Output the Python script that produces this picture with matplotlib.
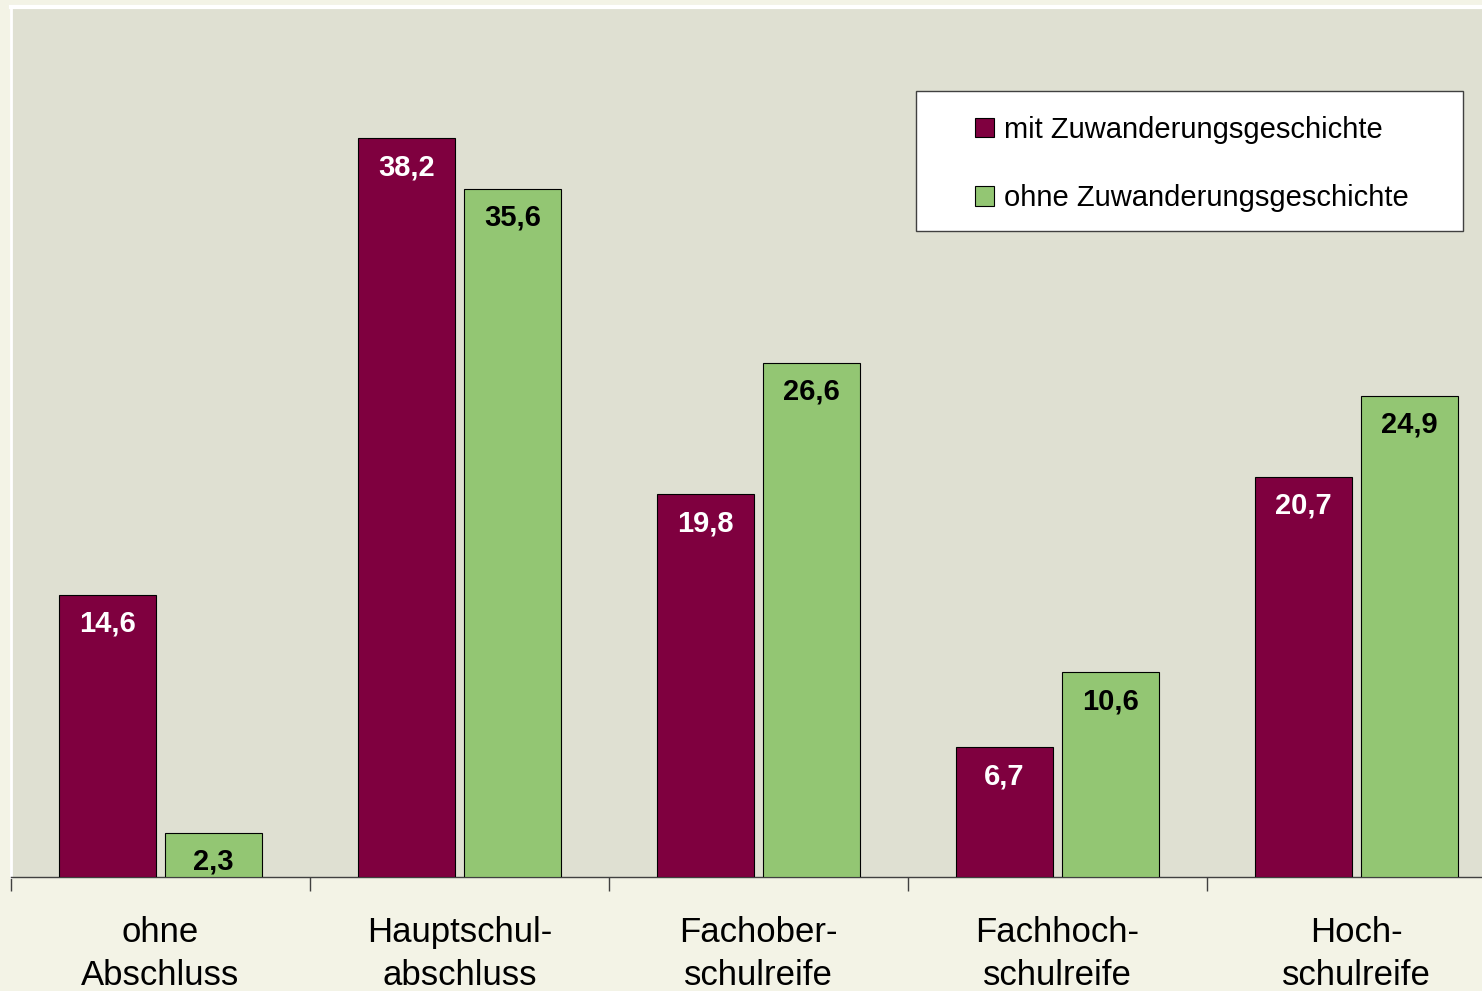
import numpy as np
import matplotlib
matplotlib.use("Agg")
import matplotlib.pyplot as plt
from matplotlib.patches import Rectangle

plt.rcParams['font.family'] = ['Liberation Sans', 'DejaVu Sans']

# Daten
kategorien = ["ohne\nAbschluss", "Hauptschul-\nabschluss", "Fachober-\nschulreife",
              "Fachhoch-\nschulreife", "Hoch-\nschulreife"]
mit_zuw = [14.6, 38.2, 19.8, 6.7, 20.7]
ohne_zuw = [2.3, 35.6, 26.6, 10.6, 24.9]
serien = ["mit Zuwanderungsgeschichte", "ohne Zuwanderungsgeschichte"]

farbe_mit = "#7F003F"
farbe_ohne = "#93C673"

W, H = 1482, 991
fig = plt.figure(figsize=(W / 100, H / 100), dpi=100)
fig.patch.set_facecolor("#F3F3E6")
# Achse reicht rechts ueber das Bild hinaus (wie im Original abgeschnitten)
ax = fig.add_axes([11 / W, 1 - 877 / H, 1495 / W, 870 / H])
ax.set_facecolor("#DFE0D2")

x = np.arange(len(kategorien))
breite = 0.325
off = 0.177
b1 = ax.bar(x - off, mit_zuw, breite, color=farbe_mit, edgecolor="black", linewidth=0.8,
            label=serien[0], zorder=3)
b2 = ax.bar(x + off, ohne_zuw, breite, color=farbe_ohne, edgecolor="black", linewidth=0.8,
            label=serien[1], zorder=3)

def fmt(v):
    return f"{v:.1f}".replace(".", ",")

for rects, werte, col in [(b1, mit_zuw, "white"), (b2, ohne_zuw, "black")]:
    for r, v in zip(rects, werte):
        ax.annotate(fmt(v), (r.get_x() + r.get_width() / 2, v), xytext=(0, -21),
                    textcoords="offset points", ha="center", va="center",
                    fontsize=21, fontweight="bold", color=col, zorder=4)

ax.set_xlim(-0.5, len(kategorien) - 0.5)
ax.set_ylim(0, 45)
ax.set_yticks([])

ax.set_xticks(np.arange(len(kategorien) + 1) - 0.5)
ax.set_xticklabels([])
ax.tick_params(axis="x", which="major", length=10, width=1, color="#404040", direction="out")
ax.set_xticks(x, minor=True)
ax.set_xticklabels(kategorien, minor=True, fontsize=25, linespacing=1.4)
ax.tick_params(axis="x", which="minor", length=0, pad=28)

for s in ["top", "right"]:
    ax.spines[s].set_visible(False)
ax.spines["left"].set_color("white")
ax.spines["left"].set_linewidth(2)
ax.spines["bottom"].set_color("#404040")
ax.spines["bottom"].set_linewidth(1)

# duenne weisse Linie oben
ax.axhline(45, color="white", linewidth=3, clip_on=False)

# Legendenkasten
fig.patches.append(Rectangle((916 / W, 1 - 231 / H), (1463 - 916) / W, (231 - 91) / H,
                             transform=fig.transFigure, facecolor="white",
                             edgecolor="#404040", linewidth=1, zorder=5))
leg = fig.legend(handles=[b1, b2], loc="upper left",
                 bbox_to_anchor=(975 / W, 1 - 116 / H),
                 fontsize=21, frameon=False, borderpad=0, borderaxespad=0,
                 labelspacing=1.38, handlelength=0.65, handleheight=0.65,
                 handletextpad=0.35)
leg.set_zorder(6)

fig.savefig("out.png", dpi=100, facecolor=fig.get_facecolor())
